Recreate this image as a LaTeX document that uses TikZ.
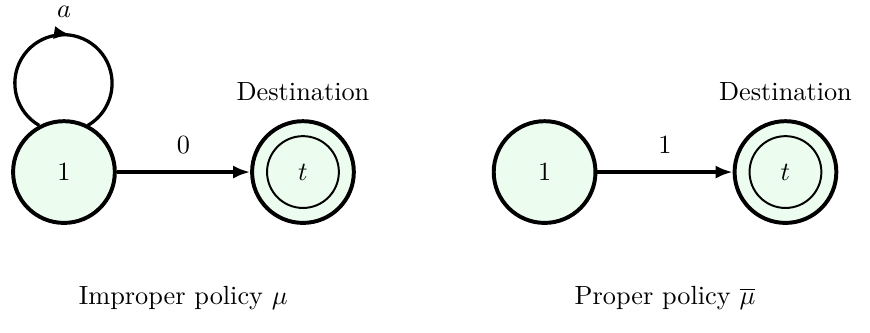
\documentclass[tikz,border=0pt]{standalone}
\usetikzlibrary{arrows.meta,positioning,decorations.markings}
\definecolor{verdino}{RGB}{236,252,238}
\begin{document}
\begin{tikzpicture}[
    stato/.style={circle,draw,line width=1.5pt,fill=verdino,
                  inner sep=0pt,minimum size=1.36cm},
    arco/.style={line width=1.25pt,-{Latex[length=6.5pt,width=5pt]}},
    anello/.style={line width=1.25pt,postaction={decorate},
                   decoration={markings,
                     mark=at position 0.53 with {\arrow{Latex[length=6.5pt,width=5pt]}}}},
    interno/.style={line width=0.75pt}]

  \useasboundingbox (0,0) rectangle (11.63,-4.45);

  % --- politica impropria: nodo 1 con il ciclo, destinazione t ---
  \node[stato] (uno) at (0.855,-2.30) {$1$};
  \node[stato] (meta) at (4.05,-2.30) {$t$};
  \draw[interno] (meta) circle[radius=0.48cm];
  \node[above=3.5pt of meta] (nomemeta) {Destination};

  \draw[arco] (uno) -- node[above=3pt] {$0$} (meta);
  \draw[anello] (uno.118) arc[start angle=240,end angle=-60,radius=0.65cm];
  \node (etica) at (0.855,-0.16) {$a$};

  % --- politica propria: nodo 1 e destinazione t ---
  \node[stato] (unob) at (7.28,-2.30) {$1$};
  \node[stato] (metab) at (10.50,-2.30) {$t$};
  \draw[interno] (metab) circle[radius=0.48cm];
  \node[above=3.5pt of metab] (nomemetab) {Destination};

  \draw[arco] (unob) -- node[above=3pt] {$1$} (metab);

  % --- didascalie ---
  \node (didA) at (2.45,-3.98) {Improper policy $\mu$};
  \node (didB) at (8.89,-3.98) {Proper policy $\overline{\mu}$};

\end{tikzpicture}
\end{document}
